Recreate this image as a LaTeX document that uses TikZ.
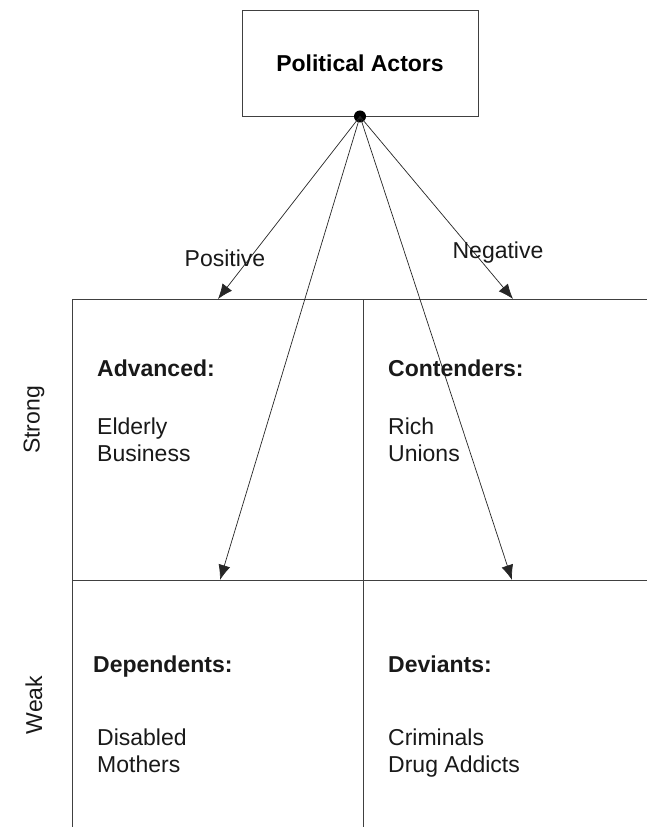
\documentclass[tikz,border=0pt]{standalone}
\usepackage{fontspec}
\setmainfont{Liberation Sans}
\usetikzlibrary{arrows.meta}
\begin{document}
\begin{tikzpicture}[x=1pt,y=-1pt,
  txt/.style={inner sep=0pt, font=\fontsize{23}{27}\selectfont, text=black!90},
  head/.style={txt, font=\bfseries\fontsize{23}{27}\selectfont},
  gridline/.style={draw=black!75, line width=0.9pt},
  arr/.style={draw=black!85, line width=0.7pt, -{Latex[length=15pt,width=12pt]}}]
\useasboundingbox[fill=white] (0,0) rectangle (647,827);
% top box
\node[draw=black!75, line width=0.9pt, minimum width=236pt, minimum height=106pt, inner sep=0pt,
      font=\bfseries\fontsize{23}{27}\selectfont] (pa) at (360,63) {Political Actors};
\node[circle, fill=black, inner sep=0pt, minimum size=12pt] (dot) at (pa.south) {};
% grid
\coordinate (gtl) at (72,299);
\coordinate (gtm) at (363,299);
\coordinate (gtr) at (647,299);
\coordinate (gml) at (72,580);
\coordinate (gmm) at (363,580);
\coordinate (gmr) at (647,580);
\coordinate (gbl) at (72,827);
\coordinate (gbm) at (363,827);
\draw[gridline] (gbl) -- (gtl) -- (gtr);
\draw[gridline] (gml) -- (gmr);
\draw[gridline] (gtm) -- (gbm);
% arrow targets
\coordinate (tpos) at (218,299);
\coordinate (tneg) at (513,299);
\coordinate (tdep) at (220,580);
\coordinate (tdev) at (512,580);
\draw[arr] (dot.center) -- (tpos);
\draw[arr] (dot.center) -- (tneg);
\draw[arr] (dot.center) -- (tdep);
\draw[arr] (dot.center) -- (tdev);
% labels
\node[txt] (lpos) at (225,258) {Positive};
\node[txt] (lneg) at (498,253) {Negative};
\node[txt, rotate=90] (lstrong) at (34,420) {Strong};
\node[txt, rotate=90] (lweak) at (34,705) {Weak};
% cells
\node[head, anchor=base west] (adv) at (97,376) {Advanced:};
\node[txt, anchor=base west, align=left] (advl) at (97,461) {Elderly\\Business};
\node[head, anchor=base west] (con) at (388,376) {Contenders:};
\node[txt, anchor=base west, align=left] (conl) at (388,461) {Rich\\Unions};
\node[head, anchor=base west] (dep) at (93,672) {Dependents:};
\node[txt, anchor=base west, align=left] (depl) at (97,772) {Disabled\\Mothers};
\node[head, anchor=base west] (dev) at (388,672) {Deviants:};
\node[txt, anchor=base west, align=left] (devl) at (388,772) {Criminals\\Drug Addicts};
\end{tikzpicture}
\end{document}
